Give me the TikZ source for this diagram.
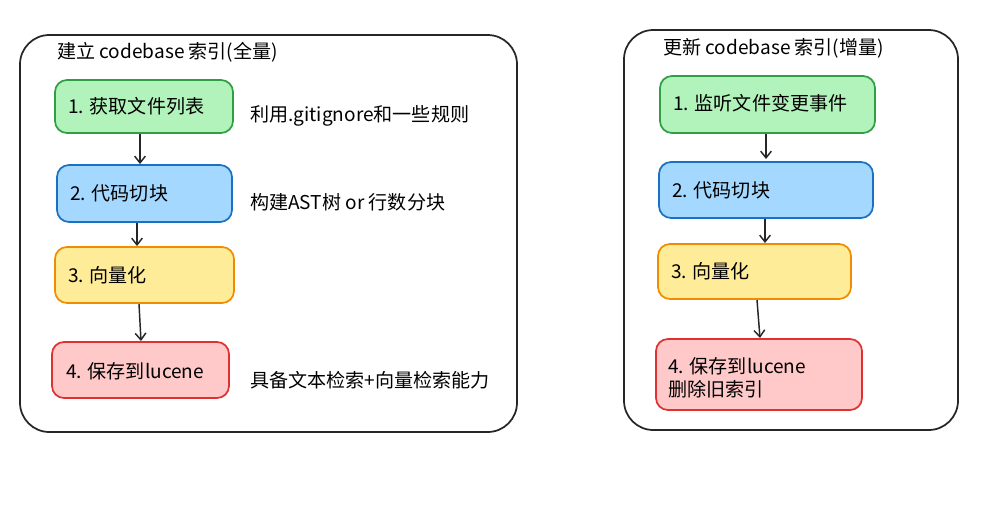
\documentclass[tikz,border=0pt]{standalone}
\usepackage{fontspec}
\setmainfont{Noto Sans CJK SC}
\usetikzlibrary{arrows.meta}
\definecolor{gf}{HTML}{B2F2BB}\definecolor{gs}{HTML}{2F9E44}
\definecolor{bf}{HTML}{A5D8FF}\definecolor{bs}{HTML}{1971C2}
\definecolor{yf}{HTML}{FFEC99}\definecolor{ys}{HTML}{F08C00}
\definecolor{rf}{HTML}{FFC9C9}\definecolor{rs}{HTML}{E03131}
\begin{document}
\begin{tikzpicture}[x=0.75pt,y=-0.75pt,
  frame/.style={draw=black!85,line width=1.3pt,rounded corners=22pt},
  sbox/.style={draw=#1,line width=1.3pt,rounded corners=9pt},
  lbl/.style={anchor=west,font=\fontsize{14.3pt}{17pt}\selectfont,inner sep=0pt,align=left},
  arr/.style={draw=black!85,line width=1.1pt,-{Straight Barb[length=5pt,width=8pt]}}]
\path[fill=white] (0,0) rectangle (1006,504);
% left
\draw[frame] (20,35) rectangle (517,432);
\node[lbl] (t1) at (57,52) {建立 codebase 索引(全量)};
\draw[sbox=gs,fill=gf] (55,80) rectangle (233,133);
\node[lbl] (a1t) at (68,106) {1. 获取文件列表};
\draw[sbox=bs,fill=bf] (57,165) rectangle (232,222);
\node[lbl] (a2t) at (70,193) {2. 代码切块};
\draw[sbox=ys,fill=yf] (55,247) rectangle (234,303);
\node[lbl] (a3t) at (68,275) {3. 向量化};
\draw[sbox=rs,fill=rf] (52,342) rectangle (229,398);
\node[lbl] (a4t) at (66,371) {4. 保存到lucene};
\node[lbl] (s1) at (250,116) {利用.gitignore和一些规则};
\node[lbl] (s2) at (250,202) {构建AST树 or 行数分块};
\node[lbl] (s3) at (250,380) {具备文本检索+向量检索能力};
\coordinate (p1) at (140,134); \coordinate (p2) at (140,164);
\coordinate (p3) at (137,223); \coordinate (p4) at (137,246);
\coordinate (p5) at (139,304); \coordinate (p6) at (141,341);
\draw[arr] (p1)--(p2); \draw[arr] (p3)--(p4); \draw[arr] (p5)--(p6);
% right
\draw[frame] (624,30) rectangle (958,430);
\node[lbl] (t2) at (663,48) {更新 codebase 索引(增量)};
\draw[sbox=gs,fill=gf] (660,76) rectangle (875,133);
\node[lbl] (b1t) at (673,103) {1. 监听文件变更事件};
\draw[sbox=bs,fill=bf] (659,162) rectangle (873,218);
\node[lbl] (b2t) at (672,190) {2. 代码切块};
\draw[sbox=ys,fill=yf] (658,244) rectangle (851,299);
\node[lbl] (b3t) at (671,271) {3. 向量化};
\draw[sbox=rs,fill=rf] (656,339) rectangle (862,410);
\node[lbl] (b4t) at (668,378) {4. 保存到lucene\\删除旧索引};
\coordinate (q1) at (766,134); \coordinate (q2) at (766,159);
\coordinate (q3) at (765,219); \coordinate (q4) at (765,243);
\coordinate (q5) at (757,300); \coordinate (q6) at (760,338);
\draw[arr] (q1)--(q2); \draw[arr] (q3)--(q4); \draw[arr] (q5)--(q6);
\end{tikzpicture}
\end{document}
